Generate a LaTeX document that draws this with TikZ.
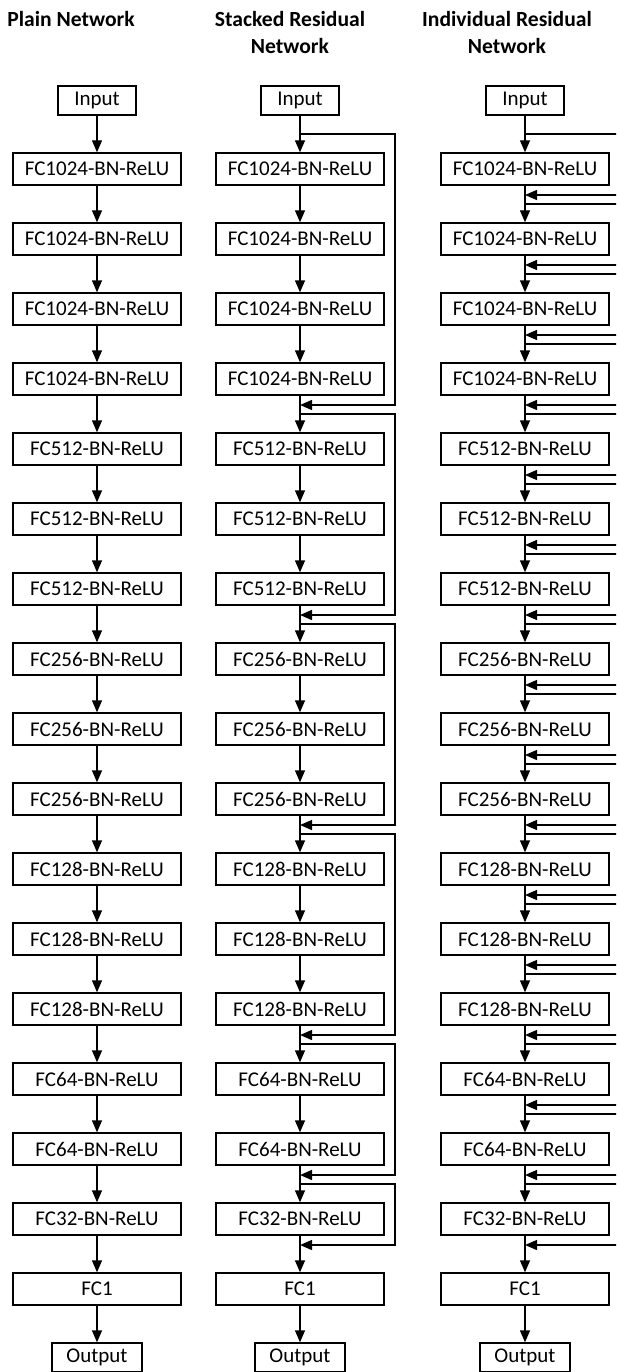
\documentclass[tikz,border=0pt]{standalone}
\usepackage{fontspec}
\setmainfont{Carlito}
\usetikzlibrary{arrows.meta}
\begin{document}
\begin{tikzpicture}[x=1pt,y=-1pt,
  blk/.style={draw, line width=1.4pt, minimum width=168pt, minimum height=32pt, inner sep=0pt,
    font=\fontsize{21}{24}\selectfont},
  io/.style={draw, line width=1.4pt, minimum height=29pt, inner sep=0pt,
    font=\fontsize{21}{24}\selectfont},
  flow/.style={line width=1.4pt, -{Triangle[width=10pt,length=12pt]}},
  ttl/.style={font=\fontsize{21.6}{27}\selectfont\bfseries, align=center, inner sep=0pt, anchor=north}]
\useasboundingbox (0,0) rectangle (616,1372);
\clip (0,0) rectangle (616,1372);

% titles
\node[ttl] (t1) at (71,11) {Plain Network};
\node[ttl] (t2) at (290,11) {Stacked Residual\\Network};
\node[ttl] (t3) at (507,11) {Individual Residual\\Network};

% three columns of nodes
\foreach \c/\x in {p/97, s/300, i/525} {
  \node[io, minimum width=78pt] (\c0) at (\x,100.5) {Input};
  \foreach \t [count=\k from 1] in {FC1024-BN-ReLU,FC1024-BN-ReLU,FC1024-BN-ReLU,FC1024-BN-ReLU,
      FC512-BN-ReLU,FC512-BN-ReLU,FC512-BN-ReLU,
      FC256-BN-ReLU,FC256-BN-ReLU,FC256-BN-ReLU,
      FC128-BN-ReLU,FC128-BN-ReLU,FC128-BN-ReLU,
      FC64-BN-ReLU,FC64-BN-ReLU,FC32-BN-ReLU,FC1} {
    \node[blk] (\c\k) at (\x,{99+70*\k}) {\t};
  }
  \node[io, minimum width=90pt] (\c18) at (\x,1357.5) {Output};
  \foreach \k [remember=\k as \j (initially 0)] in {1,...,18} {
    \draw[flow] (\c\j.south) -- (\c\k.north);
  }
}

% stacked residual shortcuts
\foreach \f/\l in {1/4, 5/7, 8/10, 11/13, 14/15, 16/16} {
  \coordinate (sb\f) at (300,{64+70*\f});
  \coordinate (sr\f) at (300,{125+70*\l});
  \draw[flow] (sb\f) -- ++(95,0) |- (sr\f);
}

% individual residual shortcuts
\foreach \k in {1,...,16} {
  \coordinate (ib\k) at (525,{64+70*\k});
  \coordinate (ir\k) at (525,{125+70*\k});
  \draw[flow] (ib\k) -- ++(110,0) |- (ir\k);
}
\end{tikzpicture}
\end{document}
